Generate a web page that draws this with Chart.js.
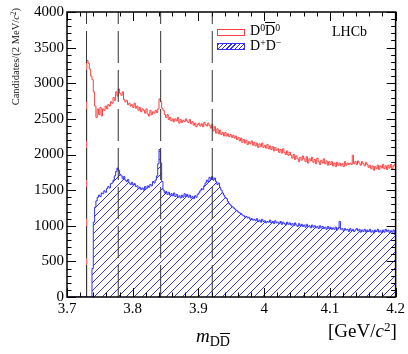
<!DOCTYPE html>
<html>
<head>
<meta charset="utf-8">
<script src="https://cdn.jsdelivr.net/npm/chart.js@4.4.0/dist/chart.umd.min.js"></script>
<style>
  body { margin: 0; background: #fff; }
  #wrap { position: relative; width: 408px; height: 354px; font-family: "Liberation Serif", serif; color: #000; }
  #wrap div { position: absolute; white-space: nowrap; line-height: 1; }
  .ytitle { width: 100px; text-align: right; left: 10px; top: 108px; transform-origin: 0 0; transform: rotate(-90deg); font-size: 10.5px; line-height: 12px !important; color: #222; }
  .box { width: 26px; height: 5px; }
  sup { font-size: 70%; vertical-align: 0.45em; line-height: 0; }
  sub { font-size: 75%; vertical-align: -0.3em; line-height: 0; }
</style>
</head>
<body>
<div id="wrap">
  <canvas id="chart" width="408" height="354"></canvas>
  <div class="ytitle">Candidates/(2 MeV/<i>c</i><sup>2</sup>)</div>
  <div class="box" style="left:217px; top:29px; border:1px solid #ff4040;"></div>
  <div class="box" style="left:217px; top:43px; border:1px solid #3030ff; background: repeating-linear-gradient(135deg, #3030ff 0 1px, #fff 1px 3px);"></div>
  <div style="left:250px; top:24px; font-size:14px;">D<sup>0</sup><span style="text-decoration: overline;">D</span><sup>0</sup></div>
  <div style="left:250px; top:39px; font-size:14px;">D<sup>+</sup>D<sup>&minus;</sup></div>
  <div style="left:332px; top:25px; font-size:14px;">LHCb</div>
  <div style="left:196px; top:326px; font-size:19px;"><i>m</i><sub style="font-size:14px;">D<span style="text-decoration: overline;">D</span></sub></div>
  <div style="left:328px; top:321px; font-size:19px;">[GeV/<i>c</i><sup>2</sup>]</div>
</div>
<script>
// histogram binning: 2 MeV bins from 3.7 to 4.2 GeV
const xMin = 3.7;
const xMax = 4.2;
const binWidth = 0.002;

// D0 D0bar candidates per bin
const d0d0Counts = [
  0, 0, 0, 0, 0, 0, 0, 0, 0, 0, 0, 0, 0, 0, 0,
  3320, 3280, 3200, 3100, 3050, 2880, 2680, 2520, 2640, 2560, 2660, 2540, 2640, 2620, 2680,
  2640, 2700, 2680, 2740, 2720, 2800, 2760, 2880, 2820, 2920,
  2860, 2830, 2880, 2770, 2740, 2760, 2700, 2720, 2680, 2700,
  2660, 2720, 2650, 2680, 2620, 2660, 2600, 2640, 2620, 2580,
  2640, 2570, 2540, 2620, 2560, 2600, 2580, 2620, 2590, 2640,
  2780, 2740, 2650, 2620, 2560, 2520, 2560, 2490, 2520, 2470,
  2500, 2460, 2500, 2470, 2520, 2440, 2490, 2450, 2480, 2460,
  2500, 2470, 2450, 2490, 2430, 2460, 2410, 2440, 2390, 2420,
  2440, 2400, 2430, 2390, 2450, 2420, 2400, 2440, 2410, 2370,
  2420, 2330, 2390, 2300, 2360, 2290, 2340, 2280, 2310, 2260,
  2310, 2260, 2290, 2250, 2280, 2240, 2270, 2230, 2260, 2210,
  2240, 2190, 2230, 2170, 2210, 2160, 2200, 2140, 2180, 2150,
  2190, 2130, 2170, 2120, 2160, 2100, 2150, 2110, 2160, 2100,
  2130, 2090, 2140, 2080, 2120, 2070, 2110, 2050, 2100, 2060,
  2080, 2030, 2070, 2020, 2080, 2030, 2000, 2050, 1990, 2030,
  1990, 1950, 2000, 1930, 1980, 1940, 1900, 1960, 1920, 1980,
  1940, 1900, 1970, 1880, 1940, 1910, 1960, 1890, 1930, 1870,
  1950, 1900, 1860, 1920, 1880, 1940, 1870, 1910, 1850, 1900,
  1860, 1900, 1840, 1880, 1830, 1890, 1850, 1880, 1840, 1870,
  1830, 1900, 1850, 1880, 1860, 1880, 1860, 1990, 1870, 1900,
  1860, 1910, 1880, 1850, 1900, 1870, 1840, 1890, 1860, 1820,
  1850, 1800, 1840, 1780, 1830, 1800, 1850, 1790, 1840, 1810,
  1860, 1800, 1840, 1790, 1850, 1810, 1860, 1800, 1840, 1860
];

// D+ D- candidates per bin
const dpdmCounts = [
  0, 0, 0, 0, 0, 0, 0, 0, 0, 0, 0, 0, 0, 0, 0, 0, 0, 0, 0,
  400,
  1050, 1260, 1350, 1400, 1430, 1410, 1460, 1450, 1490, 1470,
  1520, 1550, 1530, 1590, 1600, 1640, 1700, 1760, 1810, 1780,
  1720, 1700, 1660, 1690, 1640, 1620, 1650, 1600, 1580, 1610,
  1570, 1590, 1550, 1560, 1520, 1540, 1510, 1530, 1500, 1550,
  1520, 1560, 1540, 1580, 1560, 1620, 1600, 1640, 1700, 1870,
  2070, 1880, 1620, 1500, 1460, 1480, 1440, 1470, 1430, 1450,
  1420, 1460, 1410, 1440, 1400, 1420, 1390, 1430, 1400, 1450,
  1410, 1440, 1400, 1430, 1390, 1410, 1380, 1420, 1400, 1440,
  1460, 1490, 1520, 1510, 1560, 1600, 1640, 1620, 1680, 1650,
  1690, 1640, 1670, 1620, 1580, 1600, 1540, 1500, 1460, 1430,
  1400, 1380, 1340, 1310, 1290, 1270, 1260, 1240, 1220, 1210,
  1190, 1180, 1170, 1150, 1140, 1120, 1130, 1110, 1120, 1090,
  1100, 1080, 1090, 1070, 1100, 1060, 1080, 1050, 1090, 1060,
  1070, 1040, 1060, 1050, 1080, 1040, 1060, 1030, 1070, 1040,
  1050, 1030, 1060, 1020, 1050, 1030, 1010, 1050, 1020, 1040,
  1010, 1030, 1000, 1040, 1010, 990, 1030, 1000, 1020, 990,
  1010, 980, 1020, 990, 1000, 970, 1010, 980, 1000, 970,
  990, 960, 1000, 970, 990, 960, 980, 950, 990, 960,
  980, 950, 970, 950, 980, 940, 970, 1060, 950, 960,
  930, 960, 940, 950, 920, 960, 930, 950, 920, 940,
  960, 930, 950, 910, 940, 920, 950, 910, 940, 920,
  950, 910, 930, 900, 940, 920, 950, 910, 930, 900,
  940, 910, 950, 920, 940, 900, 930, 910, 940, 880
];

// dashed vertical lines (GeV)
const markerMasses = [3.7297, 3.778, 3.8425, 3.921];

// y axis range
const yMin = 0;
const yMax = 4000;

const redColor = '#ff4040';
const blueColor = '#3030ff';

// turn bin contents into step points (low edges + closing point at xMax)
function toSteps(counts) {
  const pts = counts.map((c, i) => ({ x: xMin + i * binWidth, y: c }));
  pts.push({ x: xMax, y: counts[counts.length - 1] });
  return pts;
}

// "///" hatching under the D+D- histogram (ROOT fill style 3004)
const hatchFill = {
  id: 'hatchFill',
  beforeDatasetsDraw(chart) {
    const meta = chart.getDatasetMeta(1);
    const line = meta.dataset;
    const pts = meta.data;
    if (!line || !pts.length) return;
    const { ctx, chartArea: a, scales: { y } } = chart;
    const base = y.getPixelForValue(0);
    ctx.save();
    ctx.beginPath();
    line.path(ctx);
    ctx.lineTo(pts[pts.length - 1].x, base);
    ctx.lineTo(pts[0].x, base);
    ctx.closePath();
    ctx.clip();
    ctx.strokeStyle = blueColor;
    ctx.lineWidth = 1;
    ctx.beginPath();
    const h = a.bottom - a.top;
    for (let sx = a.left - h; sx < a.right; sx += 8) {
      ctx.moveTo(sx, a.bottom);
      ctx.lineTo(sx + h, a.top);
    }
    ctx.stroke();
    ctx.restore();
  }
};

// dashed lines at the marked masses
const markerLines = {
  id: 'markerLines',
  afterDatasetsDraw(chart) {
    const { ctx, chartArea: a, scales: { x } } = chart;
    ctx.save();
    ctx.strokeStyle = '#333';
    ctx.lineWidth = 1;
    ctx.setLineDash([32, 7]);
    markerMasses.forEach(m => {
      const px = x.getPixelForValue(m);
      ctx.beginPath();
      ctx.moveTo(px, a.bottom);
      ctx.lineTo(px, a.top);
      ctx.stroke();
    });
    ctx.restore();
  }
};

// ROOT-like frame with inward ticks on all four sides
const frameTicks = {
  id: 'frameTicks',
  afterDraw(chart) {
    const { ctx, chartArea: a, scales: { x, y } } = chart;
    ctx.save();
    ctx.strokeStyle = '#000';
    ctx.lineWidth = 1;
    ctx.beginPath();
    for (let v = yMin; v <= yMax; v += 100) {
      const len = v % 500 === 0 ? 9 : 4.5;
      const py = Math.round(y.getPixelForValue(v)) + 0.5;
      ctx.moveTo(a.left, py); ctx.lineTo(a.left + len, py);
      ctx.moveTo(a.right, py); ctx.lineTo(a.right - len, py);
    }
    for (let k = 0; k <= 25; k++) {
      const len = k % 5 === 0 ? 9 : 4.5;
      const px = Math.round(x.getPixelForValue(xMin + k * 0.02)) + 0.5;
      ctx.moveTo(px, a.bottom); ctx.lineTo(px, a.bottom - len);
      ctx.moveTo(px, a.top); ctx.lineTo(px, a.top + len);
    }
    ctx.stroke();
    ctx.lineWidth = 1.5;
    ctx.strokeRect(a.left, a.top, a.right - a.left, a.bottom - a.top);
    ctx.restore();
  }
};

const ctx = document.getElementById('chart');
new Chart(ctx, {
  type: 'line',
  data: {
    datasets: [
      {
        label: 'D0D0bar',
        data: toSteps(d0d0Counts),
        borderColor: redColor,
        borderWidth: 1,
        stepped: true,
        fill: false,
        pointRadius: 0,
        order: 1
      },
      {
        label: 'D+D-',
        data: toSteps(dpdmCounts),
        borderColor: blueColor,
        borderWidth: 1,
        stepped: true,
        fill: false,
        pointRadius: 0,
        order: 0
      }
    ]
  },
  options: {
    responsive: false,
    animation: false,
    devicePixelRatio: 1,
    layout: { padding: { top: 8, right: 12, left: 0, bottom: 0 } },
    plugins: {
      legend: { display: false },
      tooltip: { enabled: false }
    },
    scales: {
      x: {
        type: 'linear',
        min: xMin,
        max: xMax,
        grid: { display: false, drawTicks: false },
        border: { display: false },
        afterFit(scale) { scale.height = 57; },
        ticks: {
          stepSize: 0.1,
          autoSkip: false,
          maxRotation: 0,
          padding: 3,
          color: '#000',
          font: { family: 'Liberation Serif', size: 15 },
          callback: v => String(Math.round(v * 10) / 10)
        }
      },
      y: {
        min: yMin,
        max: yMax,
        grid: { display: false, drawTicks: false },
        border: { display: false },
        afterFit(scale) { scale.width = 67; },
        ticks: {
          stepSize: 500,
          padding: 3,
          color: '#000',
          font: { family: 'Liberation Serif', size: 15 },
          callback: v => String(v)
        }
      }
    }
  },
  plugins: [hatchFill, markerLines, frameTicks]
});
</script>
</body>
</html>
